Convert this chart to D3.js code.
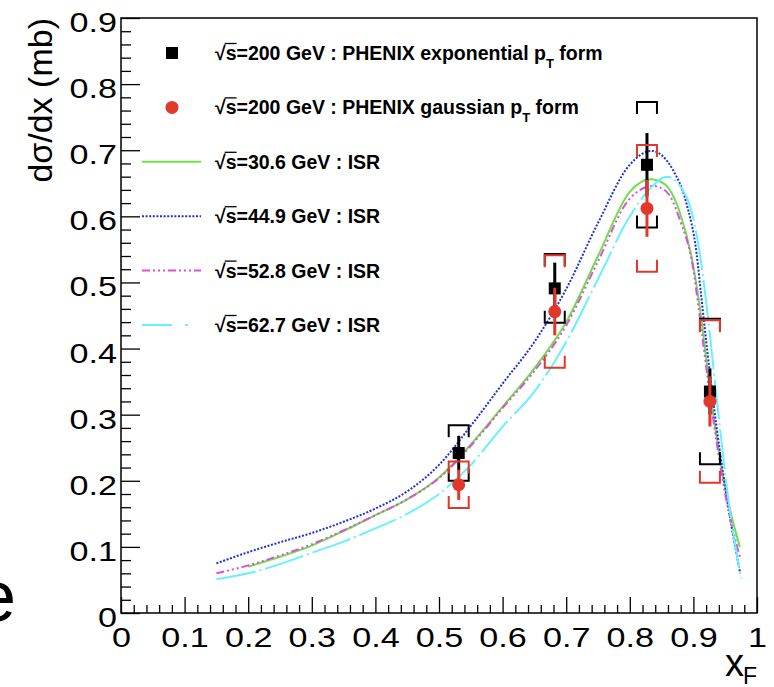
<!DOCTYPE html>
<html>
<head>
<meta charset="utf-8">
<script src="https://cdn.jsdelivr.net/npm/d3@7"></script>
<style>
  body { margin: 0; background: #fff; }
  svg { display: block; font-family: "Liberation Sans", Arial, sans-serif; }
</style>
</head>
<body>
<div id="chart"></div>
<script>
// PHENIX points at sqrt(s)=200 GeV
var phenixX = [0.531, 0.682, 0.827, 0.926];
var expVals = [0.242, 0.491, 0.678, 0.335];
var expStat = [0.026, 0.039, 0.048, 0.035];
var expSys = [0.042, 0.052, 0.095, 0.110];
var gausVals = [0.194, 0.456, 0.612, 0.320];
var gausStat = [0.023, 0.036, 0.043, 0.038];
var gausSys = [0.035, 0.085, 0.096, 0.123];

// ISR curves
var isr306X = [0.2, 0.25, 0.3, 0.35, 0.4, 0.45, 0.5, 0.55, 0.6, 0.65, 0.7, 0.75, 0.8, 0.832, 0.853, 0.879, 0.9, 0.91, 0.928, 0.95, 0.973];
var isr306Y = [0.070, 0.085, 0.102, 0.124, 0.148, 0.172, 0.205, 0.255, 0.312, 0.370, 0.440, 0.540, 0.637, 0.656, 0.650, 0.605, 0.524, 0.463, 0.322, 0.190, 0.100];

var isr449X = [0.15, 0.2, 0.25, 0.3, 0.35, 0.4, 0.45, 0.5, 0.55, 0.6, 0.65, 0.7, 0.75, 0.8, 0.834, 0.868, 0.889, 0.905, 0.913, 0.931, 0.953, 0.973];
var isr449Y = [0.075, 0.092, 0.107, 0.121, 0.138, 0.158, 0.184, 0.224, 0.283, 0.347, 0.410, 0.490, 0.590, 0.678, 0.699, 0.670, 0.620, 0.544, 0.473, 0.322, 0.171, 0.063];

var isr528X = [0.15, 0.2, 0.25, 0.3, 0.35, 0.4, 0.45, 0.5, 0.55, 0.6, 0.65, 0.7, 0.75, 0.8, 0.837, 0.858, 0.879, 0.9, 0.908, 0.927, 0.95, 0.973];
var isr528Y = [0.060, 0.072, 0.087, 0.104, 0.125, 0.148, 0.172, 0.204, 0.253, 0.310, 0.366, 0.435, 0.532, 0.627, 0.646, 0.637, 0.594, 0.519, 0.463, 0.322, 0.180, 0.085];

var isr627X = [0.15, 0.2, 0.25, 0.3, 0.35, 0.4, 0.45, 0.5, 0.55, 0.6, 0.65, 0.7, 0.75, 0.8, 0.83, 0.858, 0.889, 0.91, 0.921, 0.937, 0.955, 0.975];
var isr627Y = [0.051, 0.060, 0.074, 0.091, 0.108, 0.128, 0.150, 0.180, 0.224, 0.282, 0.335, 0.410, 0.505, 0.600, 0.640, 0.660, 0.630, 0.544, 0.463, 0.322, 0.171, 0.052];

var legendEnergies = ['200', '200', '30.6', '44.9', '52.8', '62.7'];
var legendTails = ['PHENIX exponential p', 'PHENIX gaussian p', 'ISR', 'ISR', 'ISR', 'ISR'];

var xTickVals = [0, 0.1, 0.2, 0.3, 0.4, 0.5, 0.6, 0.7, 0.8, 0.9, 1];
var yTickVals = [0, 0.1, 0.2, 0.3, 0.4, 0.5, 0.6, 0.7, 0.8, 0.9];

var W = 774, H = 687;
var frame = { left: 121, right: 757, top: 18, bottom: 613 };
var red = '#e2382b';

var svg = d3.select('#chart').append('svg')
  .attr('width', W)
  .attr('height', H);

var x = d3.scaleLinear().domain([0, 1]).range([frame.left, frame.right]);
var y = d3.scaleLinear().domain([0, 0.9]).range([frame.bottom, frame.top]);

// stray glyph clipped at the left edge
svg.append('text')
  .attr('x', -24)
  .attr('y', 621)
  .attr('font-size', 72)
  .text('e');

// minor ticks
var minorX = d3.range(0, 50).map(function(i) { return i * 0.02; })
  .filter(function(d, i) { return i % 5 !== 0; });
var minorY = d3.range(0, 45).map(function(i) { return i * 0.02; })
  .filter(function(d, i) { return i % 5 !== 0; });

svg.append('g')
  .attr('transform', 'translate(0,' + frame.bottom + ')')
  .call(d3.axisBottom(x).tickValues(minorX).tickSize(-8).tickSizeOuter(0).tickFormat(''))
  .call(function(g) { g.select('.domain').remove(); });

svg.append('g')
  .attr('transform', 'translate(' + frame.left + ',0)')
  .call(d3.axisLeft(y).tickValues(minorY).tickSize(-10).tickSizeOuter(0).tickFormat(''))
  .call(function(g) { g.select('.domain').remove(); });

function fmt(d) { return String(+d.toFixed(1)); }

var xAxis = svg.append('g')
  .attr('transform', 'translate(0,' + frame.bottom + ')')
  .call(d3.axisBottom(x).tickValues(xTickVals).tickSize(-16).tickSizeOuter(0).tickFormat(fmt));
xAxis.select('.domain').remove();
xAxis.selectAll('text')
  .attr('y', null).attr('dy', null)
  .attr('font-size', 28)
  .attr('fill', '#000')
  .attr('transform', 'translate(0,34) scale(1.22,1)');

var yAxis = svg.append('g')
  .attr('transform', 'translate(' + frame.left + ',0)')
  .call(d3.axisLeft(y).tickValues(yTickVals).tickSize(-19).tickSizeOuter(0).tickFormat(fmt));
yAxis.select('.domain').remove();
yAxis.selectAll('text')
  .attr('x', null).attr('dy', null)
  .attr('font-size', 28)
  .attr('fill', '#000')
  .attr('text-anchor', 'end')
  .attr('transform', 'translate(-4,13.5) scale(1.22,1)');

svg.selectAll('.tick line').attr('stroke', '#000').attr('stroke-width', 1.3);

// frame
svg.append('rect')
  .attr('x', frame.left)
  .attr('y', frame.top)
  .attr('width', frame.right - frame.left)
  .attr('height', frame.bottom - frame.top)
  .attr('fill', 'none')
  .attr('stroke', '#000')
  .attr('stroke-width', 1.5);

// axis titles
svg.append('text')
  .attr('transform', 'translate(52,' + frame.top + ') rotate(-90)')
  .attr('text-anchor', 'end')
  .attr('font-size', 34)
  .text('dσ/dx (mb)');

var xt = svg.append('text').attr('y', 676);
xt.append('tspan').attr('x', 725).attr('font-size', 38).text('x');
xt.append('tspan').attr('x', 743).attr('y', 684).attr('font-size', 23).text('F');

// ISR curves
var curves = [
  { xs: isr306X, ys: isr306Y, color: '#6fe04a', dash: null, legDash: null },
  { xs: isr449X, ys: isr449Y, color: '#1f2fd8', dash: '2,1.6', legDash: '2,1.6' },
  { xs: isr528X, ys: isr528Y, color: '#dc4fdc', dash: '8,3,2,3,2,3,2,3', legDash: '8,3,2,3,2,3,2,3' },
  { xs: isr627X, ys: isr627Y, color: '#6af0fb', dash: '40,4,2,4', legDash: '30,13,3,13' }
];

var line = d3.line()
  .x(function(d) { return x(d[0]); })
  .y(function(d) { return y(d[1]); })
  .curve(d3.curveMonotoneX);

curves.forEach(function(c) {
  svg.append('path')
    .datum(d3.zip(c.xs, c.ys))
    .attr('d', line)
    .attr('fill', 'none')
    .attr('stroke', c.color)
    .attr('stroke-width', 2)
    .attr('stroke-dasharray', c.dash);
});

// PHENIX points: stat bars, sys brackets, markers
function drawSeries(vals, stat, sys, color, isSquare) {
  var g = svg.append('g');
  phenixX.forEach(function(xv, i) {
    var cx = x(xv);
    var hi = y(vals[i] + sys[i]), lo = y(vals[i] - sys[i]);
    g.append('path')
      .attr('d', 'M' + (cx - 10) + ',' + (hi + 12) + 'V' + hi + 'H' + (cx + 10) + 'V' + (hi + 12) +
        'M' + (cx - 10) + ',' + (lo - 12) + 'V' + lo + 'H' + (cx + 10) + 'V' + (lo - 12))
      .attr('fill', 'none')
      .attr('stroke', color)
      .attr('stroke-width', 2);
    g.append('line')
      .attr('x1', cx).attr('x2', cx)
      .attr('y1', y(vals[i] + stat[i]))
      .attr('y2', y(vals[i] - stat[i]))
      .attr('stroke', color)
      .attr('stroke-width', 3);
    if (isSquare) {
      g.append('rect')
        .attr('x', cx - 6).attr('y', y(vals[i]) - 6)
        .attr('width', 12).attr('height', 12)
        .attr('fill', color);
    } else {
      g.append('circle')
        .attr('cx', cx).attr('cy', y(vals[i]))
        .attr('r', 6.5)
        .attr('fill', color);
    }
  });
}

drawSeries(expVals, expStat, expSys, '#000', true);
drawSeries(gausVals, gausStat, gausSys, red, false);

// legend
var legendStyles = [
  { type: 'square', color: '#000' },
  { type: 'circle', color: red },
  { type: 'line', color: curves[0].color, dash: curves[0].legDash },
  { type: 'line', color: curves[1].color, dash: curves[1].legDash },
  { type: 'line', color: curves[2].color, dash: curves[2].legDash },
  { type: 'line', color: curves[3].color, dash: curves[3].legDash }
];

legendEnergies.forEach(function(e, i) {
  var rowY = 53 + i * 54.4;
  var st = legendStyles[i];
  if (st.type === 'square') {
    svg.append('rect').attr('x', 166).attr('y', rowY - 6).attr('width', 12).attr('height', 12).attr('fill', st.color);
  } else if (st.type === 'circle') {
    svg.append('circle').attr('cx', 172).attr('cy', rowY).attr('r', 6.5).attr('fill', st.color);
  } else {
    svg.append('line')
      .attr('x1', 142).attr('x2', 201)
      .attr('y1', rowY).attr('y2', rowY)
      .attr('stroke', st.color)
      .attr('stroke-width', 2)
      .attr('stroke-dasharray', st.dash);
  }

  var t = svg.append('text')
    .attr('x', 215)
    .attr('y', rowY + 7)
    .attr('font-size', 19.5)
    .attr('font-weight', 'bold');
  t.append('tspan').text('√s=' + e + ' GeV : ' + legendTails[i]);
  if (i < 2) {
    t.append('tspan').attr('font-size', 13).attr('dy', 8).text('T');
    t.append('tspan').attr('dy', -8).text(' form');
  }

  // overline of the square root
  var node = t.node();
  var rootW = node.getSubStringLength(0, 1);
  var sW = node.getSubStringLength(1, 1);
  svg.append('line')
    .attr('x1', 215 + rootW - 1).attr('x2', 215 + rootW + sW)
    .attr('y1', rowY - 9.5).attr('y2', rowY - 9.5)
    .attr('stroke', '#000')
    .attr('stroke-width', 1.3);
});
</script>
</body>
</html>
